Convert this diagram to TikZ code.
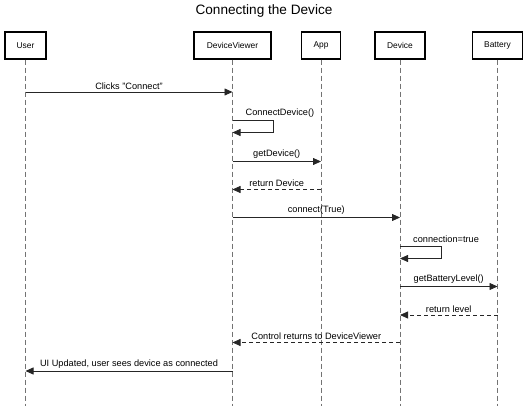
\documentclass[tikz,border=0pt]{standalone}
\usepackage{fontspec}
\setmainfont{Liberation Sans}
\usetikzlibrary{arrows.meta,calc}
\begin{document}
\begin{tikzpicture}[x=1pt,y=-1pt,
  actor/.style={draw=black,line width=1.1pt,fill=white,minimum height=27pt,inner sep=0pt,font=\fontsize{8.4}{9}\selectfont},
  lifeline/.style={draw=black!55,line width=0.9pt,dash pattern=on 5pt off 3pt},
  msg/.style={draw=black!85,line width=0.8pt,-{Triangle[length=8pt,width=7pt]}},
  ret/.style={msg,dash pattern=on 4pt off 3pt},
  lbl/.style={font=\fontsize{9.2}{10}\selectfont,inner sep=1pt,text=black}]
\useasboundingbox (0,0) rectangle (528,406);
\node[font=\fontsize{13.6}{15}\selectfont] (title) at (264,11) {Connecting the Device};
\node[actor,minimum width=41pt] (user) at (25.5,45.5) {User};
\node[actor,minimum width=77pt] (viewer) at (232.5,45.5) {DeviceViewer};
\node[actor,minimum width=39pt] (app) at (321,45.5) {App};
\node[actor,minimum width=50pt] (device) at (400,45.5) {Device};
\node[actor,minimum width=50pt] (battery) at (497.5,45.5) {Battery};
\coordinate (bot) at (0,406);
\foreach \n in {user,viewer,app,device,battery}{
  \draw[lifeline] (\n.south) -- (\n |- bot);
}
% messages
\coordinate (m1) at (0,92);
\draw[msg] (user |- m1) -- node[lbl,above=1.5pt] {Clicks "Connect"} (viewer |- m1);
\coordinate (m2a) at (0,120);
\coordinate (m2b) at (0,132.5);
\coordinate (m2r) at (273,0);
\draw[msg] (viewer |- m2a) -- (m2r |- m2a) -- (m2r |- m2b) -- (viewer |- m2b);
\node[lbl,anchor=west] (l2) at ($(viewer |- m2a)+(12,-7)$) {ConnectDevice()};
\coordinate (m3) at (0,161.5);
\draw[msg] (viewer |- m3) -- node[lbl,above=1.5pt] {getDevice()} (app |- m3);
\coordinate (m4) at (0,189.5);
\draw[ret] (app |- m4) -- node[lbl,above=1.5pt] {return Device} (viewer |- m4);
\coordinate (m5) at (0,217.5);
\draw[msg] (viewer |- m5) -- node[lbl,above=1.5pt] {connect(True)} (device |- m5);
\coordinate (m6a) at (0,246);
\coordinate (m6b) at (0,258.5);
\coordinate (m6r) at (441,0);
\draw[msg] (device |- m6a) -- (m6r |- m6a) -- (m6r |- m6b) -- (device |- m6b);
\node[lbl,anchor=west] (l6) at ($(device |- m6a)+(12,-7)$) {connection=true};
\coordinate (m7) at (0,286.5);
\draw[msg] (device |- m7) -- node[lbl,above=1.5pt] {getBatteryLevel()} (battery |- m7);
\coordinate (m8) at (0,315);
\draw[ret] (battery |- m8) -- node[lbl,above=1.5pt] {return level} (device |- m8);
\coordinate (m9) at (0,342.5);
\draw[ret] (device |- m9) -- node[lbl,above=1.5pt] {Control returns to DeviceViewer} (viewer |- m9);
\coordinate (m10) at (0,371);
\draw[msg] (viewer |- m10) -- node[lbl,above=1.5pt] {UI Updated, user sees device as connected} (user |- m10);
\end{tikzpicture}
\end{document}
